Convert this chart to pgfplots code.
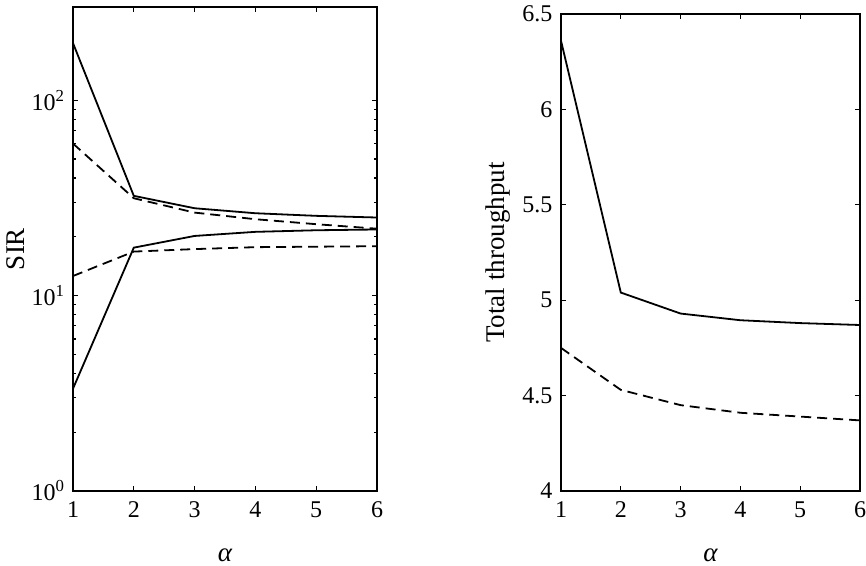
\documentclass[border=0pt]{standalone}
\usepackage{fontspec}
\setmainfont{Liberation Serif}
\usepackage{pgfplots}
\pgfplotsset{compat=1.18}
\pgfplotsset{mystyle/.style={
  scale only axis, axis line style={line width=1.5bp},
  every tick/.style={line width=1.1bp,black},
  major tick length=5bp, minor tick length=3bp,
  xmin=1, xmax=6, xtick={1,2,3,4,5,6},
  xticklabels={1,2,3,4,5,6},
  every tick label/.append style={font=\fontsize{24bp}{27bp}\selectfont},
  every axis label/.append style={font=\fontsize{27bp}{30bp}\selectfont},
  xlabel={\itshape α},
  xlabel style={at={(axis description cs:0.5,0)},anchor=center,yshift=-64bp},
  xticklabel style={yshift=-7bp},
  yticklabel style={xshift=-5bp},
}}
\begin{document}
\begin{tikzpicture}
\useasboundingbox (0,0) rectangle (866bp,566bp);
\tikzset{sl/.style={black, line width=1.8bp}, dl/.style={black, line width=1.8bp, dash pattern=on 10bp off 6bp}}
% Left panel: SIR
\begin{axis}[mystyle,
  at={(73bp,75bp)}, anchor=south west,
  width=304bp, height=484bp,
  ymode=log, ymin=1, ymax=300,
  ytick={1,10,100},
  yticklabels={{10\textsuperscript{0}},{10\textsuperscript{1}},{10\textsuperscript{2}}},
  ylabel={SIR},
  ylabel style={at={(axis description cs:0,0.5)},anchor=center,yshift=57bp},
]
\addplot[sl] coordinates {(1,196) (2,32.4) (3,28.0) (4,26.4) (5,25.6) (6,25.1)};
\addplot[dl] coordinates {(1,60) (2,31.5) (3,26.6) (4,24.6) (5,23.2) (6,22.0)};
\addplot[sl] coordinates {(1,3.34) (2,17.6) (3,20.2) (4,21.2) (5,21.6) (6,21.8)};
\addplot[dl] coordinates {(1,12.6) (2,16.8) (3,17.3) (4,17.7) (5,17.8) (6,17.9)};
\end{axis}
% Right panel: Total throughput
\begin{axis}[mystyle,
  at={(561bp,75bp)}, anchor=south west,
  width=299bp, height=477bp,
  ymin=4, ymax=6.5,
  ytick={4,4.5,5,5.5,6,6.5},
  yticklabels={4,4.5,5,5.5,6,6.5},
  ylabel={Total throughput},
  ylabel style={at={(axis description cs:0,0.5)},anchor=center,yshift=63bp},
]
\addplot[sl] coordinates {(1,6.36) (2,5.04) (3,4.93) (4,4.895) (5,4.88) (6,4.87)};
\addplot[dl] coordinates {(1,4.75) (2,4.53) (3,4.45) (4,4.41) (5,4.39) (6,4.37)};
\end{axis}
\end{tikzpicture}
\end{document}
